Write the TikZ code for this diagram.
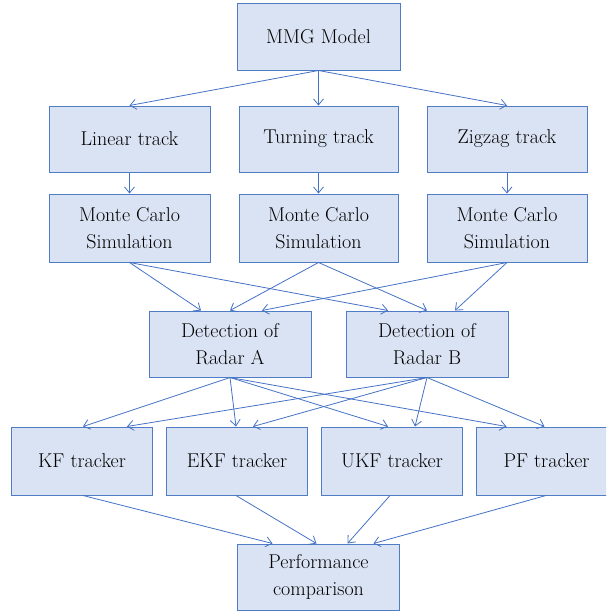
\documentclass[tikz,border=0pt]{standalone}
\usetikzlibrary{arrows.meta}
\definecolor{boxfill}{HTML}{DAE3F3}
\definecolor{boxline}{HTML}{4F7CC4}
\definecolor{arrowc}{HTML}{4472C4}
\begin{document}
\begin{tikzpicture}[x=1pt,y=-1pt,
  box/.style={draw=boxline,fill=boxfill,line width=1pt,inner sep=0pt,
    minimum width=161pt,minimum height=66pt,align=center,
    font=\rmfamily\fontsize{20}{26.5}\selectfont,text=black},
  trk/.style={box,minimum width=141pt,minimum height=68pt},
  arr/.style={draw=arrowc,line width=0.8pt,-{Straight Barb[length=6pt,width=10pt,line width=0.8pt]}}]
\useasboundingbox (0,0) rectangle (606,614);
\clip (0,0) rectangle (606,614);
% nodes
\node[box,minimum width=163pt,minimum height=67pt] (mmg) at (318.5,36.5) {MMG Model};
\node[box] (lt) at (129.5,139) {Linear track};
\node[box,minimum width=159pt] (tt) at (318.5,139) {Turning track};
\node[box,minimum width=160pt] (zt) at (507,139) {Zigzag track};
\node[box,minimum height=68pt] (mc1) at (129.5,228) {Monte Carlo\\Simulation};
\node[box,minimum width=159pt,minimum height=68pt] (mc2) at (318.5,228) {Monte Carlo\\Simulation};
\node[box,minimum width=160pt,minimum height=68pt] (mc3) at (507,228) {Monte Carlo\\Simulation};
\node[box,minimum width=162pt] (da) at (230,344) {Detection of\\Radar A};
\node[box,minimum width=162pt] (db) at (427,344) {Detection of\\Radar B};
\node[trk] (kf) at (82,461) {KF tracker};
\node[trk] (ekf) at (237,461) {EKF tracker};
\node[trk] (ukf) at (392,461) {UKF tracker};
\node[trk] (pf) at (546.5,461) {PF tracker};
\node[box,minimum width=162pt] (perf) at (318.5,577) {Performance\\comparison};
% arrows
\draw[arr] (mmg.south) -- (lt.north);
\draw[arr] (mmg.south) -- (tt.north);
\draw[arr] (mmg.south) -- (zt.north);
\draw[arr] (lt.south) -- (mc1.north);
\draw[arr] (tt.south) -- (mc2.north);
\draw[arr] (zt.south) -- (mc3.north);
\draw[arr] (mc1.south) -- ([xshift=-29pt]da.north);
\draw[arr] (mc2.south) -- (da.north);
\draw[arr] (mc3.south) -- ([xshift=32pt]da.north);
\draw[arr] (mc1.south) -- ([xshift=-39pt]db.north);
\draw[arr] (mc2.south) -- (db.north);
\draw[arr] (mc3.south) -- ([xshift=28pt]db.north);
\draw[arr] (da.south) -- ([xshift=1pt]kf.north);
\draw[arr] (da.south) -- ([xshift=-1pt]ekf.north);
\draw[arr] (da.south) -- ([xshift=-4pt]ukf.north);
\draw[arr] (da.south) -- ([xshift=-40pt]pf.north);
\draw[arr] (db.south) -- ([xshift=45pt]kf.north);
\draw[arr] (db.south) -- ([xshift=16pt]ekf.north);
\draw[arr] (db.south) -- ([xshift=23pt]ukf.north);
\draw[arr] (db.south) -- ([xshift=-2pt]pf.north);
\draw[arr] ([xshift=1pt]kf.south) -- ([xshift=-46pt]perf.north);
\draw[arr] ([xshift=-1pt]ekf.south) -- ([xshift=-2pt]perf.north);
\draw[arr] ([xshift=-2pt]ukf.south) -- ([xshift=29pt]perf.north);
\draw[arr] ([xshift=-0.5pt]pf.south) -- ([xshift=55pt]perf.north);
\end{tikzpicture}
\end{document}
